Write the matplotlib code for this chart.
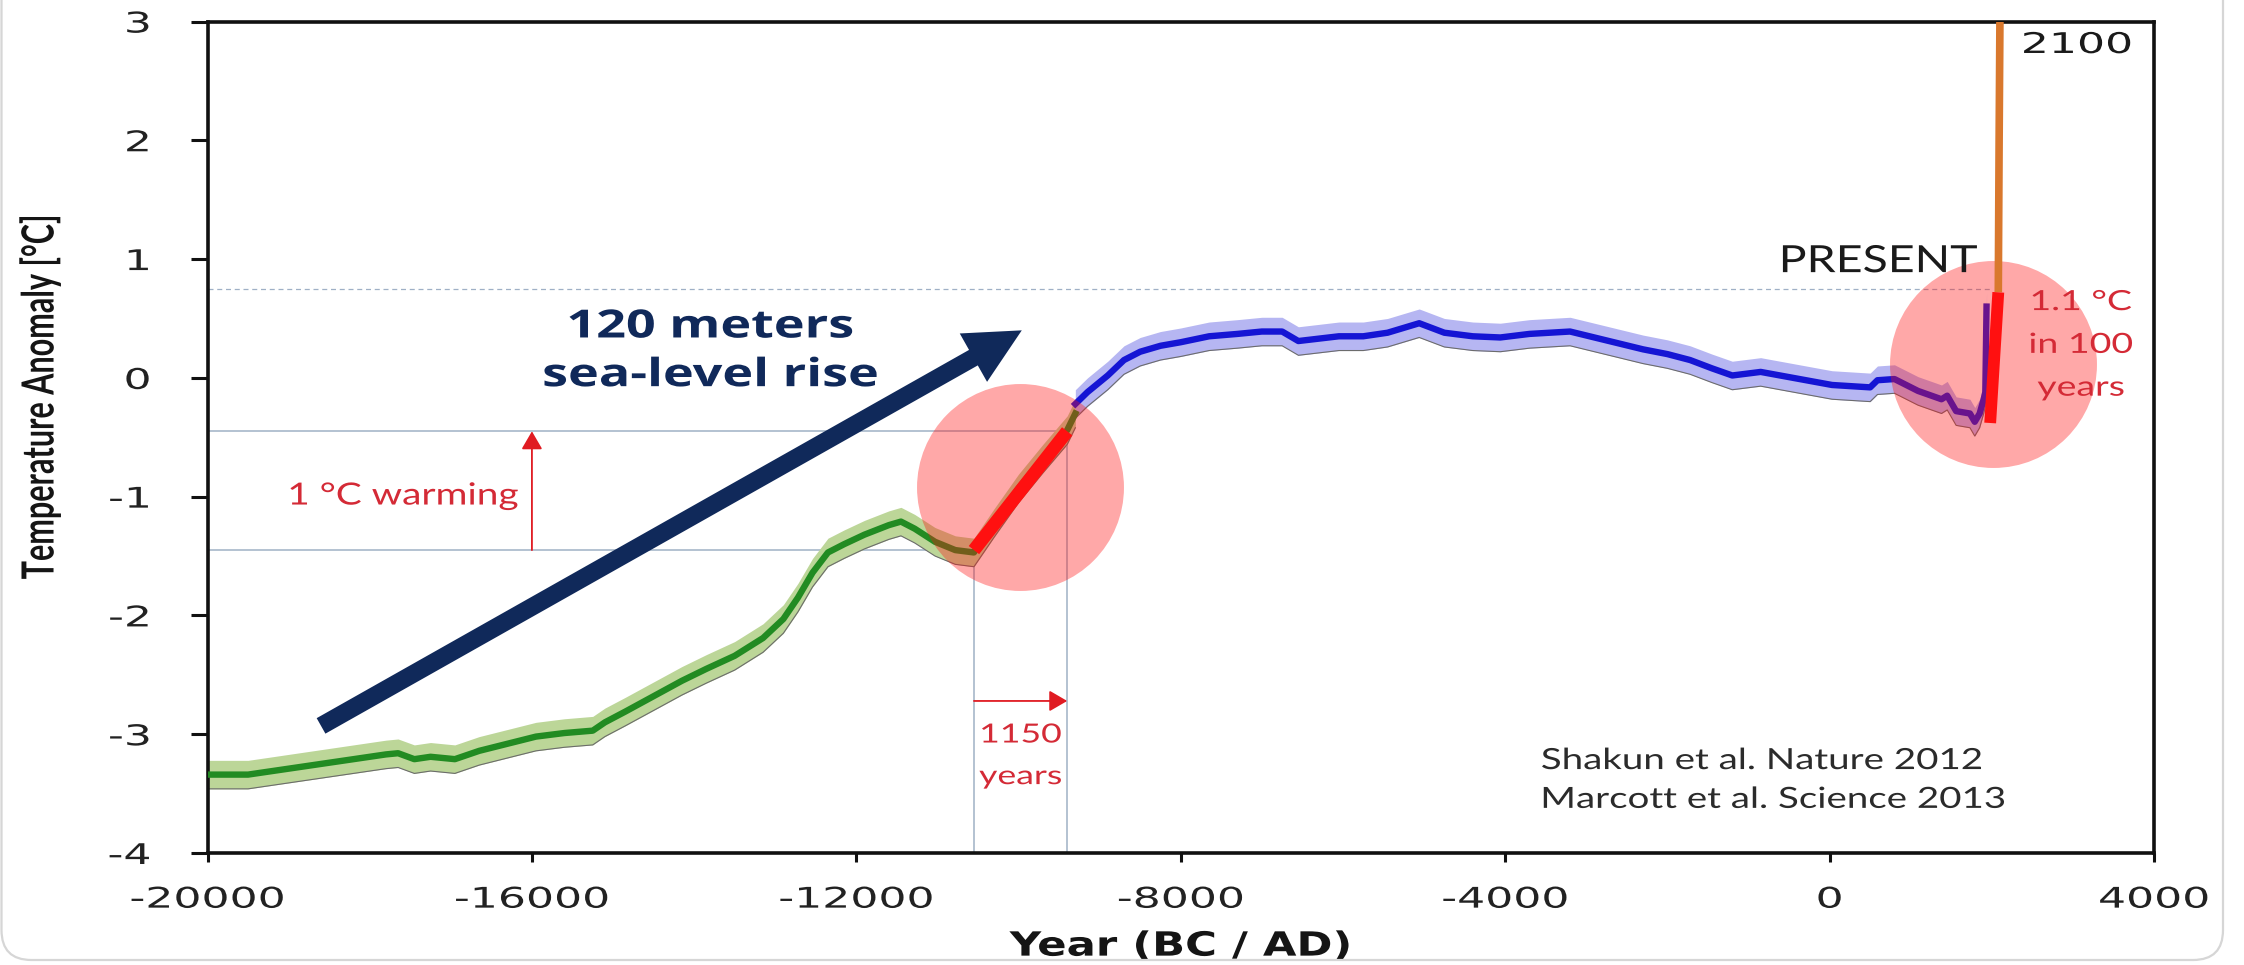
import matplotlib
matplotlib.use("Agg")
import numpy as np
import matplotlib.pyplot as plt
from matplotlib.patches import FancyBboxPatch
from matplotlib.patheffects import AbstractPathEffect
from matplotlib.transforms import Affine2D, IdentityTransform

# ---------------------------------------------------------------- data
# Shakun et al. 2012 reconstruction (deglacial)
shakun_years = [-20000, -19500, -19000, -18400, -17800, -17650, -17450, -17250,
                -16950, -16650, -16300, -15950, -15600, -15250, -15100, -14850,
                -14500, -14150, -13850, -13500, -13150, -12900, -12720, -12540,
                -12350, -12150, -11900, -11600, -11450, -11280, -11030, -10780,
                -10550, -10300, -10000, -9700, -9400, -9300]
shakun_temps = [-3.34, -3.34, -3.29, -3.23, -3.17, -3.16, -3.21, -3.19,
                -3.21, -3.14, -3.08, -3.02, -2.99, -2.97, -2.90, -2.81,
                -2.68, -2.55, -2.45, -2.34, -2.19, -2.03, -1.85, -1.64,
                -1.47, -1.40, -1.32, -1.24, -1.21, -1.27, -1.38, -1.45,
                -1.47, -1.22, -0.93, -0.68, -0.44, -0.30]

# Marcott et al. 2013 reconstruction (Holocene)
marcott_years = [-9300, -9150, -8900, -8700, -8500, -8250, -8000, -7650, -7300,
                 -7000, -6750, -6550, -6300, -6050, -5750, -5450, -5060, -4750,
                 -4400, -4060, -3700, -3200, -2900, -2600, -2300, -2000, -1720,
                 -1450, -1200, -850, -450, 30, 500, 590, 800, 1090, 1380, 1450,
                 1560, 1730, 1790, 1850, 1900, 1920, 1935]
marcott_temps = [-0.22, -0.12, 0.02, 0.15, 0.22, 0.27, 0.30, 0.35, 0.37,
                 0.39, 0.39, 0.31, 0.33, 0.35, 0.35, 0.38, 0.46, 0.38,
                 0.35, 0.34, 0.37, 0.39, 0.34, 0.29, 0.24, 0.20, 0.15,
                 0.08, 0.02, 0.05, 0.00, -0.06, -0.08, -0.02, -0.01, -0.11, -0.18, -0.15,
                 -0.28, -0.30, -0.37, -0.30, -0.18, -0.12, 0.60]

band_halfwidth = 0.12

# highlighted warming episodes
deglacial_years = [-10550, -9400]
deglacial_temps = [-1.45, -0.45]
modern_years = [1980, 2080]
modern_temps = [-0.38, 0.72]
projection_years = [2080, 2090, 2100]
projection_temps = [0.72, 1.97, 3.0]

present_level = 0.75
highlight_centers_x = [-9980, 2016]
highlight_centers_y = [-0.92, 0.12]

x_ticks = [-20000, -16000, -12000, -8000, -4000, 0, 4000]
x_ticklabels = ["-20000", "-16000", "-12000", "-8000", "-4000", "0", "4000"]
y_ticks = [-4, -3, -2, -1, 0, 1, 2, 3]
y_ticklabels = ["-4", "-3", "-2", "-1", "0", "1", "2", "3"]

# ---------------------------------------------------------------- style
GREEN = "#228b22"
GREEN_BAND = "#bcd698"
BLUE = "#1515d4"
BLUE_BAND = "#b6b6f2"
RED = "#ff1010"
ANNOT_RED = "#d42a36"
ORANGE = "#d9782d"
NAVY = "#10295a"
GUIDE = "#a7b7ca"
INK = "#1a1a1a"


class Widen(AbstractPathEffect):
    """Scale glyph outlines in the text's own frame (sx along the line, sy across it)."""

    def __init__(self, sx=1.0, sy=1.0, anchor="center"):
        super().__init__()
        self._sx, self._sy, self._anchor = sx, sy, anchor

    def draw_path(self, renderer, gc, tpath, affine, rgbFace=None):
        ext = tpath.get_extents()
        if self._anchor == "left":
            cx = ext.x0
        elif self._anchor == "right":
            cx = ext.x1
        else:
            cx = 0.5 * (ext.x0 + ext.x1)
        cy = 0.5 * (ext.y0 + ext.y1)
        pre = Affine2D().translate(-cx, -cy).scale(self._sx, self._sy).translate(cx, cy)
        renderer.draw_path(gc, tpath, pre + affine, rgbFace)


fig = plt.figure(figsize=(22.44, 9.65), dpi=100)
ax = fig.add_axes([0.09247, 0.11606, 0.86743, 0.86166])
ax.set_xlim(-20000, 4000)
ax.set_ylim(-4, 3)

# reference / guide lines
ax.plot([-20000, 1990], [present_level, present_level], color="#9fb0c6", lw=0.9,
        ls=(0, (4, 3)), zorder=1.5)
ax.plot([-20000, deglacial_years[1]], [deglacial_temps[1]] * 2, color=GUIDE, lw=1.2, zorder=1.5)
ax.plot([-20000, deglacial_years[0]], [deglacial_temps[0]] * 2, color=GUIDE, lw=1.2, zorder=1.5)
ax.plot([deglacial_years[0]] * 2, [-4, deglacial_temps[0]], color=GUIDE, lw=1.2, zorder=1.5)
ax.plot([deglacial_years[1]] * 2, [-4, deglacial_temps[1]], color=GUIDE, lw=1.2, zorder=1.5)

# reconstructions with uncertainty bands
for yrs, tmp, line_c, band_c in [(shakun_years, shakun_temps, GREEN, GREEN_BAND),
                                 (marcott_years, marcott_temps, BLUE, BLUE_BAND)]:
    yrs = np.asarray(yrs, float)
    tmp = np.asarray(tmp, float)
    ax.fill_between(yrs, tmp - band_halfwidth, tmp + band_halfwidth, color=band_c,
                    lw=0, zorder=2)
    ax.plot(yrs, tmp - band_halfwidth, color="#6c6c6c", lw=0.8, zorder=2.1)
    ax.plot(yrs, tmp, color=line_c, lw=4.6, zorder=3, solid_joinstyle="round")

# sea-level arrow
ax.annotate("", xy=(-9960, 0.40), xytext=(-18600, -2.93),
            arrowprops=dict(arrowstyle="simple,head_length=1.0,head_width=1.0,tail_width=0.32",
                            mutation_scale=40, color=NAVY, shrinkA=0, shrinkB=0, lw=0),
            zorder=3.5)

# highlight discs
ax.scatter(highlight_centers_x, highlight_centers_y, s=149 ** 2, c=RED, alpha=0.36,
           linewidths=0, zorder=4)

# fast-warming segments and projection
ax.plot(projection_years, projection_temps, color=ORANGE, lw=5.5, zorder=4.5,
        solid_capstyle="butt")
ax.plot(deglacial_years, deglacial_temps, color=RED, lw=9.5, zorder=5, solid_capstyle="butt")
ax.plot(modern_years, modern_temps, color=RED, lw=8.5, zorder=5, solid_capstyle="butt")

# red measurement arrows
arrow_kw = dict(arrowstyle="-|>,head_length=0.55,head_width=0.32", mutation_scale=20,
                color="#e01b22", lw=1.3, shrinkA=0, shrinkB=0)
ax.annotate("", xy=(-16000, deglacial_temps[1]), xytext=(-16000, deglacial_temps[0]),
            arrowprops=arrow_kw, zorder=5)
ax.annotate("", xy=(deglacial_years[1], -2.72), xytext=(deglacial_years[0], -2.72),
            arrowprops=arrow_kw, zorder=5)

# ---------------------------------------------------------------- text
# (multi-line texts are anchored on the baseline of their last line)
ax.text(-16170, -0.99, "1 °C warming", ha="right", va="center", fontsize=22,
        family="Lato", color=ANNOT_RED, path_effects=[Widen(1.27, anchor="right")], zorder=6)
ax.text(-9975, -3.42, "1150\nyears", ha="center", va="baseline", fontsize=19,
        family="Lato", color=ANNOT_RED, linespacing=1.83,
        path_effects=[Widen(1.35)], zorder=6)
ax.text(3100, -0.15, "1.1 °C\nin 100\nyears", ha="center", va="baseline", fontsize=20,
        family="Lato", color=ANNOT_RED, linespacing=1.8,
        path_effects=[Widen(1.35)], zorder=6)
ax.text(1818, 0.89, "PRESENT", ha="right", va="baseline", fontsize=27, family="Lato",
        color=INK, path_effects=[Widen(1.24, anchor="right")], zorder=6)
ax.text(3052, 2.735, "2100", ha="center", va="baseline", fontsize=20.5,
        family="DejaVu Sans", color=INK, path_effects=[Widen(1.55)], zorder=6)
ax.text(-3557, -3.62, "Shakun et al. Nature 2012\nMarcott et al. Science 2013",
        ha="left", va="baseline", fontsize=21, family="Lato", color="#2b2b2b",
        linespacing=1.61, path_effects=[Widen(1.32, anchor="left")], zorder=6)
ax.text(-13800, 0.34, "120 meters", ha="center", va="baseline", fontsize=28,
        fontweight="bold", family="Open Sans", color=NAVY,
        path_effects=[Widen(1.34)], zorder=6)
ax.text(-13800, -0.07, "sea-level rise", ha="center", va="baseline", fontsize=28,
        fontweight="bold", family="Open Sans", color=NAVY,
        path_effects=[Widen(1.34)], zorder=6)

# ---------------------------------------------------------------- axes
for sp in ax.spines.values():
    sp.set_linewidth(2.6)
    sp.set_color("#111111")

ax.set_xticks(x_ticks)
ax.set_xticklabels(x_ticklabels)
ax.set_yticks(y_ticks)
ax.set_yticklabels(y_ticklabels)
ax.tick_params(axis="x", direction="out", length=6.5, width=2.2, pad=17,
               labelsize=20.5, color="#111111", labelcolor="#222222")
ax.tick_params(axis="y", direction="out", length=12, width=2.2, pad=29,
               labelsize=20.5, color="#111111", labelcolor="#222222")
for lab in ax.get_xticklabels():
    lab.set_path_effects([Widen(1.55)])
for lab in ax.get_yticklabels():
    lab.set_path_effects([Widen(1.55, anchor="right")])

ax.set_xlabel("Year (BC / AD)", fontsize=24, fontweight="bold", family="DejaVu Sans",
              color="#151515", va="center", path_effects=[Widen(1.3)])
ax.xaxis.set_label_coords(0.5, -0.112)
ax.set_ylabel("Temperature Anomaly [°C]", fontsize=22, fontweight="bold", family="Lato",
              color="#151515", rotation=90, va="center", ha="center",
              path_effects=[Widen(1.0, 1.45)])
ax.yaxis.set_label_coords(-0.0861, 0.548)

# card outline
card = FancyBboxPatch((1.5, 5), 2221.5, 1100, boxstyle="round,pad=0,rounding_size=30",
                      transform=IdentityTransform(), fill=False, ec="#d6d6d6", lw=1.6)
fig.add_artist(card)

fig.savefig("out.png", dpi=100, facecolor="white")
